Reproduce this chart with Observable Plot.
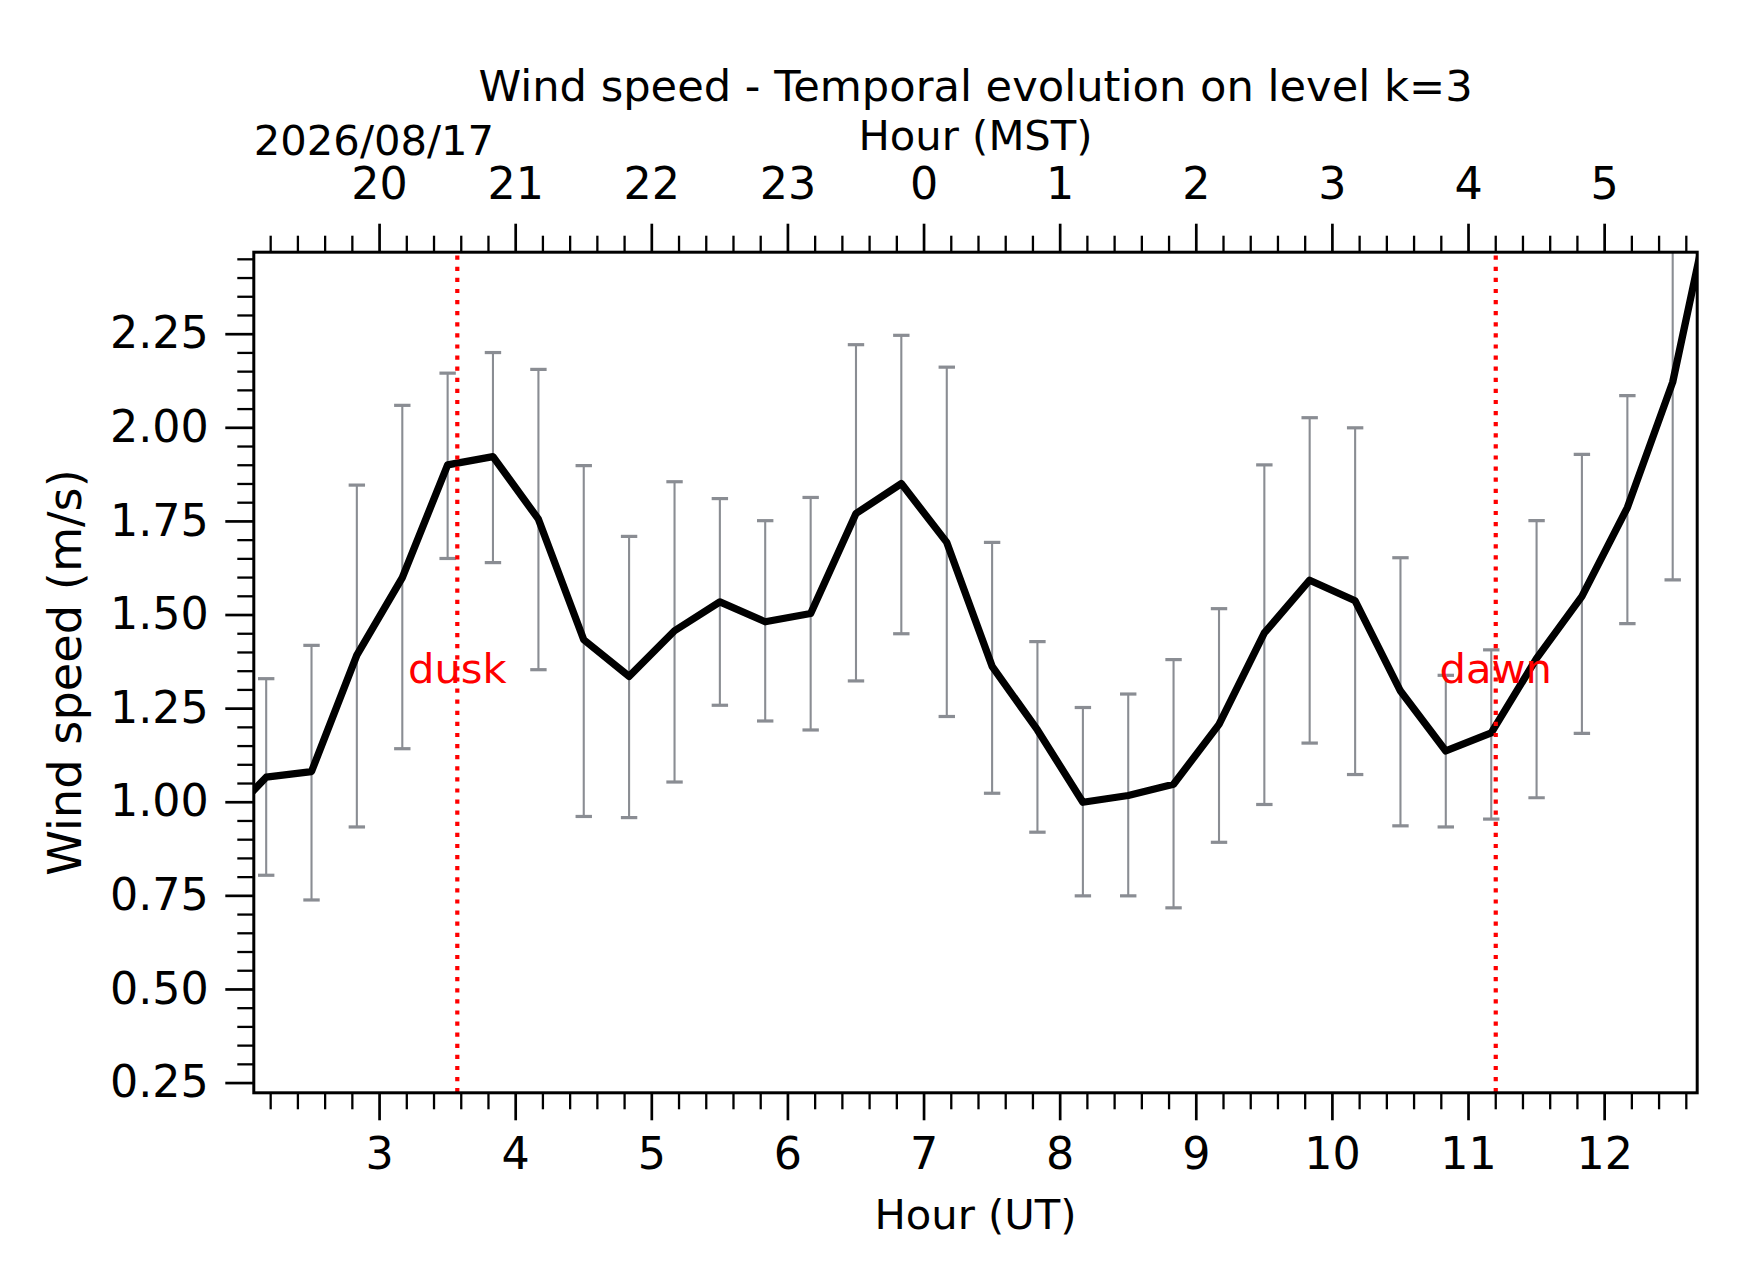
<!DOCTYPE html>
<html>
<head>
<meta charset="utf-8">
<script src="https://cdn.jsdelivr.net/npm/d3@7"></script>
<script src="https://cdn.jsdelivr.net/npm/@observablehq/plot@0.6"></script>
<style>
  html, body { margin: 0; padding: 0; background: #ffffff; }
  #chart svg { display: block; }
</style>
</head>
<body>
<div id="chart"></div>
<script>
// ---- data ----
const timesUT = [1.833, 2.167, 2.5, 2.833, 3.167, 3.5, 3.833, 4.167, 4.5, 4.833, 5.167, 5.5, 5.833,
  6.167, 6.5, 6.833, 7.167, 7.5, 7.833, 8.167, 8.5, 8.833, 9.167, 9.5, 9.833, 10.167, 10.5, 10.833,
  11.167, 11.5, 11.833, 12.167, 12.5, 12.833];
const windSpeed = [0.94, 1.067, 1.082, 1.393, 1.600, 1.901, 1.923, 1.756, 1.434, 1.336, 1.458, 1.535, 1.482,
  1.504, 1.771, 1.851, 1.694, 1.363, 1.193, 1.000, 1.018, 1.048, 1.208, 1.452, 1.593, 1.538, 1.297, 1.137,
  1.185, 1.384, 1.550, 1.787, 2.122, 2.688];
const errHigh = [1.20, 1.330, 1.419, 1.847, 2.060, 2.146, 2.201, 2.156, 1.899, 1.710, 1.856, 1.811, 1.752,
  1.814, 2.222, 2.247, 2.162, 1.694, 1.429, 1.253, 1.289, 1.381, 1.517, 1.901, 2.027, 2.000, 1.653, 1.339,
  1.407, 1.752, 1.929, 2.086, 2.650, 3.100];
const errLow = [0.68, 0.805, 0.739, 0.934, 1.143, 1.651, 1.640, 1.354, 0.962, 0.959, 1.054, 1.259, 1.217,
  1.193, 1.324, 1.450, 1.229, 1.024, 0.920, 0.750, 0.750, 0.718, 0.893, 0.994, 1.158, 1.074, 0.937, 0.934,
  0.955, 1.012, 1.184, 1.477, 1.594, 2.280];

const utTicks = [3, 4, 5, 6, 7, 8, 9, 10, 11, 12];
const mstTickLabels = ["20", "21", "22", "23", "0", "1", "2", "3", "4", "5"];
const xMinorTicks = [2.2, 2.4, 2.6, 2.8, 3.2, 3.4, 3.6, 3.8, 4.2, 4.4, 4.6, 4.8, 5.2, 5.4, 5.6, 5.8,
  6.2, 6.4, 6.6, 6.8, 7.2, 7.4, 7.6, 7.8, 8.2, 8.4, 8.6, 8.8, 9.2, 9.4, 9.6, 9.8, 10.2, 10.4, 10.6, 10.8,
  11.2, 11.4, 11.6, 11.8, 12.2, 12.4, 12.6];
const yTicks = [0.25, 0.5, 0.75, 1.0, 1.25, 1.5, 1.75, 2.0, 2.25];
const yMinorTicks = [0.3, 0.35, 0.4, 0.45, 0.55, 0.6, 0.65, 0.7, 0.8, 0.85, 0.9, 0.95, 1.05, 1.1, 1.15, 1.2,
  1.3, 1.35, 1.4, 1.45, 1.55, 1.6, 1.65, 1.7, 1.8, 1.85, 1.9, 1.95, 2.05, 2.1, 2.15, 2.2, 2.3, 2.35, 2.4, 2.45];

const twilightTimes = [3.571, 11.2];
const twilightLabels = ["dusk", "dawn"];
const twilightLabelY = 1.318;

const xDomain = [2.076, 12.68];
const yDomain = [0.224, 2.469];

const titleText = "Wind speed - Temporal evolution on level k=3";
const topLabel = "Hour (MST)";
const dateLabel = "2026/08/17";
const bottomLabel = "Hour (UT)";
const yLabel = "Wind speed (m/s)";

// ---- build ----
const rows = timesUT.map((t, i) => ({t, v: windSpeed[i], hi: errHigh[i], lo: errLow[i]}));
const twilight = twilightTimes.map((t, i) => ({t, label: twilightLabels[i]}));

const errColor = "#8a8d93";
const capSymbol = {
  draw(ctx, size) {
    const r = Math.sqrt(size / Math.PI);
    ctx.moveTo(-r, 0);
    ctx.lineTo(r, 0);
  }
};

const W = 1742, H = 1282;
const mL = 253.3, mR = W - 1696.7, mT = 251.7, mB = H - 1092.3;
const tickFont = 44.4, labelFont = 41.7, titleFont = 43.2, yLabelFont = 46.3;

const chart = Plot.plot({
  width: W,
  height: H,
  marginLeft: mL,
  marginRight: mR,
  marginTop: mT,
  marginBottom: mB,
  style: {fontFamily: "DejaVu Sans", fontSize: `${tickFont}px`, background: "#ffffff", color: "#000000"},
  x: {type: "linear", domain: xDomain},
  y: {type: "linear", domain: yDomain},
  marks: [
    // error bars
    Plot.ruleX(rows, {x: "t", y1: "lo", y2: "hi", stroke: errColor, strokeWidth: 2.1, clip: true}),
    Plot.dot(rows, {x: "t", y: "hi", symbol: capSymbol, r: 8.2, stroke: errColor, fill: "none", strokeWidth: 3.2, clip: true}),
    Plot.dot(rows, {x: "t", y: "lo", symbol: capSymbol, r: 8.2, stroke: errColor, fill: "none", strokeWidth: 3.2, clip: true}),
    // mean line
    Plot.line(rows, {x: "t", y: "v", stroke: "#000000", strokeWidth: 7.3, strokeLinejoin: "round", clip: true}),
    // dusk / dawn
    Plot.ruleX(twilight, {x: "t", y1: yDomain[0], y2: yDomain[1], stroke: "#ff0000", strokeWidth: 4.2, strokeDasharray: "4.2,6.9"}),
    Plot.text(twilight, {x: "t", y: twilightLabelY, text: "label", fill: "#ff0000", fontSize: labelFont, textAnchor: "middle", lineAnchor: "bottom"}),
    // axes
    Plot.axisX({anchor: "bottom", ticks: utTicks, tickSize: 28, tickPadding: 17, tickFormat: d => String(d), strokeWidth: 2.7, fontSize: tickFont, label: null}),
    Plot.axisX({anchor: "bottom", ticks: xMinorTicks, tickSize: 17, tickFormat: () => "", strokeWidth: 2.3, label: null}),
    Plot.axisX({anchor: "top", ticks: utTicks, tickSize: 29, tickPadding: 24.4, tickFormat: d => mstTickLabels[utTicks.indexOf(d)], strokeWidth: 2.7, fontSize: tickFont, label: null}),
    Plot.axisX({anchor: "top", ticks: xMinorTicks, tickSize: 17, tickFormat: () => "", strokeWidth: 2.3, label: null}),
    Plot.axisY({anchor: "left", ticks: yTicks, tickSize: 28, tickPadding: 17, tickFormat: d3.format(".2f"), strokeWidth: 2.7, fontSize: tickFont, label: null}),
    Plot.axisY({anchor: "left", ticks: yMinorTicks, tickSize: 16, tickFormat: () => "", strokeWidth: 2.3, label: null}),
    Plot.frame({stroke: "#000000", strokeWidth: 3}),
    // titles and axis labels
    Plot.text([titleText], {text: d => d, frameAnchor: "top", dy: -(mT - 100), lineAnchor: "bottom", textAnchor: "middle", fontSize: titleFont}),
    Plot.text([topLabel], {text: d => d, frameAnchor: "top", dy: -(mT - 149.3), lineAnchor: "bottom", textAnchor: "middle", fontSize: labelFont}),
    Plot.text([dateLabel], {text: d => d, frameAnchor: "top-left", dy: -(mT - 154.3), lineAnchor: "bottom", textAnchor: "start", fontSize: labelFont}),
    Plot.text([bottomLabel], {text: d => d, frameAnchor: "bottom", dy: 1228.3 - (H - mB), lineAnchor: "bottom", textAnchor: "middle", fontSize: labelFont}),
    Plot.text([yLabel], {text: d => d, frameAnchor: "left", dx: -(mL - 80), rotate: -90, lineAnchor: "bottom", textAnchor: "middle", fontSize: yLabelFont})
  ]
});

document.getElementById("chart").appendChild(chart);
</script>
</body>
</html>
